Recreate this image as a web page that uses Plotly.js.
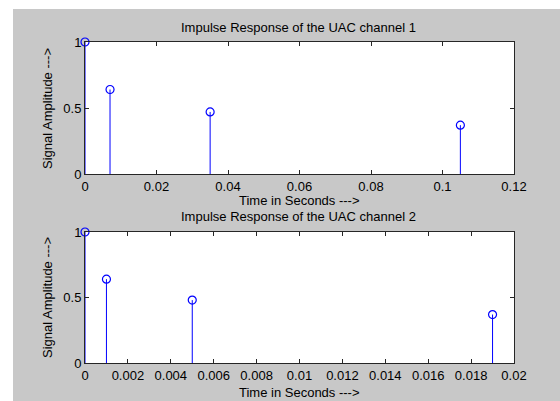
<!DOCTYPE html>
<html><head><meta charset="utf-8">
<script src="https://cdn.plot.ly/plotly-3.0.1.min.js"></script>
<style>html,body{margin:0;padding:0;background:#fff}#g{width:560px;height:401px}</style>
</head><body><div id="g"></div>
<script>
// Channel 1
const t1 = [0, 0.007, 0.035, 0.105];
const h1 = [1, 0.64, 0.47, 0.37];
// Channel 2
const t2 = [0, 0.001, 0.005, 0.019];
const h2 = [1, 0.64, 0.48, 0.37];
const x1Ticks = [0, 0.02, 0.04, 0.06, 0.08, 0.1, 0.12];
const x1Text = ["0", "0.02", "0.04", "0.06", "0.08", "0.1", "0.12"];
const x2Ticks = [0, 0.002, 0.004, 0.006, 0.008, 0.01, 0.012, 0.014, 0.016, 0.018, 0.02];
const x2Text = ["0", "0.002", "0.004", "0.006", "0.008", "0.01", "0.012", "0.014", "0.016", "0.018", "0.02"];
const yTicks = [0, 0.5, 1];
const yText = ["0", "0.5", "1"];
const titles = ["Impulse Response of the UAC channel 1", "Impulse Response of the UAC channel 2"];
const xTitle = "Time in Seconds --->";
const yTitle = "Signal Amplitude --->";

function stems(t, h) {
  const xs = [], ys = [];
  t.forEach((v, i) => { xs.push(v, v, null); ys.push(0, h[i], null); });
  return {xs, ys};
}
const s1 = stems(t1, h1), s2 = stems(t2, h2);
const blue = '#0000ff';
const W = 560, H = 401;
const px = v => v / W, py = v => (H - v) / H;
const F = 'Liberation Sans, Arial, sans-serif';
const FS = 13;

const mk = {symbol: 'circle-open', size: 8, color: blue, line: {width: 1.2, color: blue}};
const data = [
  {x: s1.xs, y: s1.ys, xaxis: 'x', yaxis: 'y', mode: 'lines', line: {color: blue, width: 1}, cliponaxis: false},
  {x: t1, y: h1, xaxis: 'x', yaxis: 'y', mode: 'markers', marker: mk, cliponaxis: false},
  {x: s2.xs, y: s2.ys, xaxis: 'x2', yaxis: 'y2', mode: 'lines', line: {color: blue, width: 1}, cliponaxis: false},
  {x: t2, y: h2, xaxis: 'x2', yaxis: 'y2', mode: 'markers', marker: mk, cliponaxis: false}
];

const axBase = {showline: true, mirror: 'ticks', ticks: 'inside', ticklen: 4, tickwidth: 1, tickcolor: '#262626',
  linecolor: '#262626', linewidth: 1, showgrid: false, zeroline: false, tickfont: {family: F, size: FS, color: '#000'}, fixedrange: true};

const ann = (text, x, y, angle) => ({text, x: px(x), y: py(y), xref: 'paper', yref: 'paper', showarrow: false,
  xanchor: 'center', yanchor: 'middle', textangle: angle || 0, font: {family: F, size: FS, color: '#000'}});

const layout = {
  width: W, height: H, margin: {l: 0, r: 0, t: 0, b: 0},
  paper_bgcolor: '#c8c8c8', plot_bgcolor: '#ffffff', showlegend: false,
  font: {family: F, size: FS, color: '#000'},
  xaxis: Object.assign({}, axBase, {domain: [px(85), px(514)], range: [0, 0.12], tickvals: x1Ticks, ticktext: x1Text, anchor: 'y'}),
  yaxis: Object.assign({}, axBase, {domain: [py(174), py(42)], range: [0, 1], tickvals: yTicks, ticktext: yText, anchor: 'x'}),
  xaxis2: Object.assign({}, axBase, {domain: [px(85), px(514)], range: [0, 0.02], tickvals: x2Ticks, ticktext: x2Text, anchor: 'y2'}),
  yaxis2: Object.assign({}, axBase, {domain: [py(363), py(232)], range: [0, 1], tickvals: yTicks, ticktext: yText, anchor: 'x2'}),
  shapes: [
    {type: 'rect', xref: 'paper', yref: 'paper', x0: 0, x1: px(13), y0: 0, y1: 1, fillcolor: '#ffffff', line: {width: 0}, layer: 'above'},
    {type: 'rect', xref: 'paper', yref: 'paper', x0: 0, x1: 1, y0: py(9), y1: 1, fillcolor: '#ffffff', line: {width: 0}, layer: 'above'}
  ],
  annotations: [
    ann(titles[0], 298, 27), ann(xTitle, 299, 200), ann(titles[1], 298, 217), ann(xTitle, 299, 392),
    ann(yTitle, 47, 108, -90), ann(yTitle, 47, 297, -90)
  ]
};
Plotly.newPlot('g', data, layout, {staticPlot: true, displayModeBar: false});
</script></body></html>
